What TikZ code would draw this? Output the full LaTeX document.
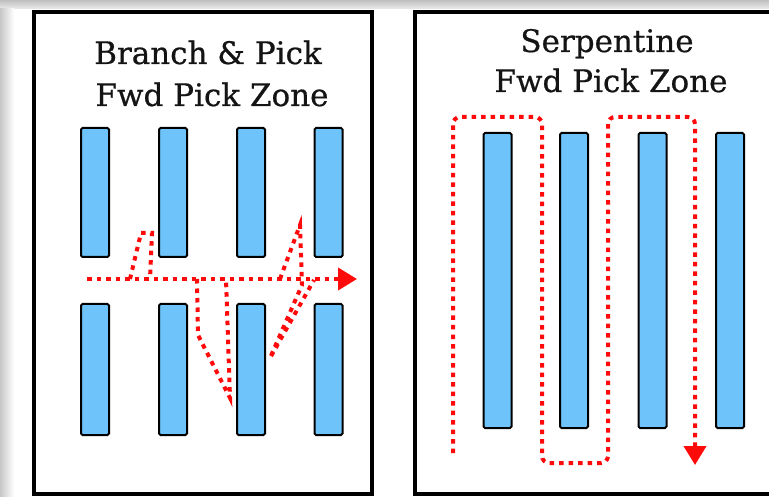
\documentclass[tikz,border=0pt]{standalone}
\usepackage{fontspec}
\setmainfont{DejaVu Serif}
\newfontfamily\titlefont[FakeBold=0.6]{DejaVu Serif}
\usetikzlibrary{arrows.meta}
\definecolor{rackblue}{RGB}{110,196,250}
\definecolor{pathred}{RGB}{255,10,10}
\begin{document}
\begin{tikzpicture}[x=1pt,y=-1pt,
  rack/.style={draw=black,line width=2pt,fill=rackblue,rounded corners=1.5pt,inner sep=0pt,minimum width=28pt},
  panel/.style={draw=black,line width=3.5pt},
  route/.style={draw=pathred,line width=4pt,dash pattern=on 4.5pt off 5pt},
  tip/.style={-{Triangle[length=19pt,width=22pt]}},
  title/.style={font=\titlefont\fontsize{31}{33}\selectfont,text=black!92,anchor=base,inner sep=0pt}]
\useasboundingbox (0,0) rectangle (769,497);
\clip (0,0) rectangle (769,497);
\fill[white] (0,0) rectangle (769,497);
% shadow bands
\shade[top color=black!25,bottom color=black!8] (0,0) rectangle (769,9);
\shade[left color=black!22,right color=white] (0,9) rectangle (14,497);
% panels
\draw[panel] (34,12) rectangle (372,494);
\draw[panel] (415,12) rectangle (790,494);
% titles
\node[title] (t1) at (208,64) {Branch \& Pick};
\node[title] (t2) at (212,106) {Fwd Pick Zone};
\node[title] (t3) at (607,52) {Serpentine};
\node[title] (t4) at (611,92) {Fwd Pick Zone};
% left racks
\foreach \i/\x in {1/95,2/173,3/251,4/328.5}{
  \node[rack,minimum height=129pt] (lt\i) at (\x,192.5) {};
  \node[rack,minimum height=131pt] (lb\i) at (\x,369.5) {};
}
% right racks
\foreach \i/\x in {1/497.5,2/574,3/652.5,4/730}{
  \node[rack,minimum height=295pt] (r\i) at (\x,280.5) {};
}
% left routes
\draw[route,tip] (87,279) -- (357,279);
\draw[route] (130,279) -- (141,233) -- (152,233) -- (150,279);
\draw[route] (197,279) -- (198,335) -- (230,398) -- (226,279);
\draw[route] (280,279) -- (300,225) -- (302,285) -- (270,358) -- (314,280);
% right route
\draw[route,tip,rounded corners=7pt] (453,453) -- (453,117) -- (542,117) -- (542,463)
  -- (608,463) -- (608,117) -- (695,117) -- (695,465);
\end{tikzpicture}
\end{document}
